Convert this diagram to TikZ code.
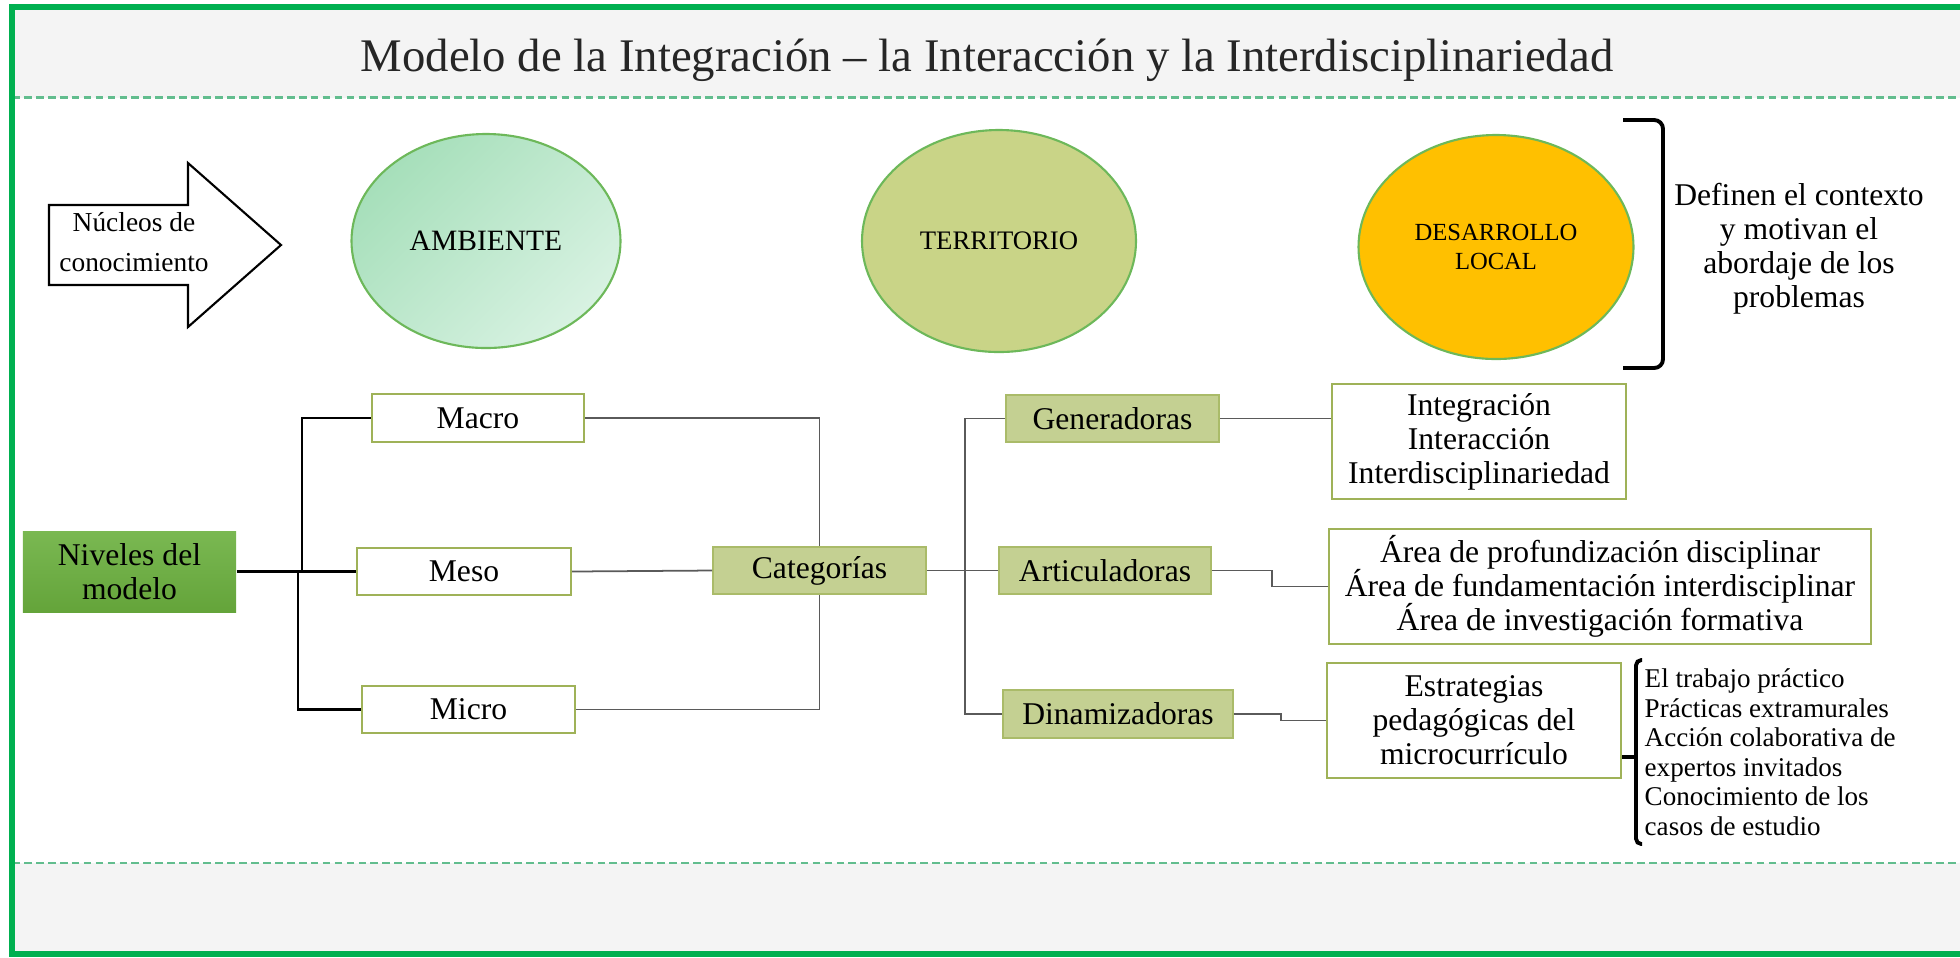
\documentclass[tikz,border=0pt]{standalone}
\usepackage{fontspec}
\setmainfont{Liberation Serif}
\usepackage{tikz}
\usetikzlibrary{shapes.geometric}

\definecolor{framegreen}{HTML}{00B050}
\definecolor{bandgray}{HTML}{F4F4F4}
\definecolor{dashgreen}{HTML}{62BD8E}
\definecolor{olivefill}{HTML}{C4D092}
\definecolor{oliveline}{HTML}{9FB258}
\definecolor{oliveterr}{HTML}{C9D487}
\definecolor{ambdark}{HTML}{A6DFBA}
\definecolor{amblight}{HTML}{D8F2E2}
\definecolor{ellline}{HTML}{6DB85A}
\definecolor{localgold}{HTML}{FFC000}
\definecolor{nivtop}{HTML}{7AB852}
\definecolor{nivbot}{HTML}{64A43A}
\definecolor{linkgray}{HTML}{5A5A5A}

\tikzset{
  whitebox/.style={rectangle, draw=oliveline, line width=0.6pt, fill=white, inner sep=0pt, align=center},
  olivebox/.style={rectangle, draw=oliveline!70!olivefill, line width=0.5pt, fill=olivefill, inner sep=0pt, align=center},
  zone/.style={ellipse, draw=ellline, line width=0.6pt, inner sep=0pt, align=center},
  blackline/.style={black, line width=0.8pt},
  grayline/.style={linkgray, line width=0.5pt},
  boxfont/.style={font=\fontsize{9}{9.7}\selectfont},
  dashrule/.style={dashgreen, line width=0.6pt, dash pattern=on 2.2pt off 1.2pt}
}

\begin{document}
\begin{tikzpicture}
\useasboundingbox (0,0) rectangle (19.6,-9.57);

% bands and frame
\fill[bandgray] (0.12,-0.07) rectangle (19.6,-0.975);
\fill[bandgray] (0.12,-8.63) rectangle (19.6,-9.54);
\draw[dashrule] (0.12,-0.975) -- (19.6,-0.975);
\draw[dashrule] (0.12,-8.63) -- (19.6,-8.63);
\draw[framegreen, line width=1.6pt] (19.6,-0.07) -- (0.12,-0.07) -- (0.12,-9.54) -- (19.6,-9.54);

\node[text=black!85, font=\fontsize{13.3}{16}\selectfont] (title) at (9.87,-0.60)
  {Modelo de la Integración – la Interacción y la Interdisciplinariedad};

% top row
\draw[line width=0.6pt] (0.49,-2.05) -- (1.88,-2.05) -- (1.88,-1.63) -- (2.81,-2.45)
  -- (1.88,-3.27) -- (1.88,-2.85) -- (0.49,-2.85) -- cycle;
\node[align=center, font=\fontsize{7.8}{11.4}\selectfont] (nucleos) at (1.34,-2.42) {Núcleos de\\conocimiento};

\node[zone, minimum width=2.69cm, minimum height=2.14cm, top color=ambdark, bottom color=amblight,
  shading angle=45, font=\fontsize{8.4}{10}\selectfont] (ambiente) at (4.86,-2.41) {AMBIENTE};
\node[zone, minimum width=2.74cm, minimum height=2.22cm, fill=oliveterr,
  font=\fontsize{7.6}{9}\selectfont] (territorio) at (9.99,-2.41) {TERRITORIO};
\node[zone, minimum width=2.75cm, minimum height=2.24cm, fill=localgold,
  font=\fontsize{7}{8.3}\selectfont] (desarrollo) at (14.96,-2.47) {DESARROLLO\\LOCAL};

\draw[line width=1.1pt, rounded corners=2.5pt] (16.23,-1.20) -- (16.63,-1.20) -- (16.63,-3.68) -- (16.23,-3.68);
\node[align=center, boxfont] (contexto) at (17.99,-2.49)
  {Definen el contexto\\y motivan el\\abordaje de los\\problemas};

% levels
\node[rectangle, top color=nivtop, bottom color=nivbot, minimum width=2.13cm, minimum height=0.81cm,
  inner sep=0pt, align=center, boxfont] (niveles) at (1.295,-5.715) {Niveles del\\modelo};
\node[whitebox, minimum width=2.12cm, minimum height=0.48cm, boxfont] (macro) at (4.78,-4.18) {Macro};
\node[whitebox, minimum width=2.14cm, minimum height=0.47cm, boxfont] (meso) at (4.64,-5.715) {Meso};
\node[whitebox, minimum width=2.13cm, minimum height=0.47cm, boxfont] (micro) at (4.685,-7.095) {Micro};
\node[olivebox, minimum width=2.13cm, minimum height=0.47cm, boxfont] (categorias) at (8.195,-5.705) {Categorías};

\draw[blackline] (niveles.east) -- (meso.west);
\draw[blackline] (macro.west) -- ++(-0.69,0) |- (meso.west);
\draw[blackline] (micro.west) -- ++(-0.63,0) |- (niveles.east);
\draw[grayline] (macro.east) -| (categorias.north);
\draw[grayline] (meso.east) -- (categorias.west);
\draw[grayline] (micro.east) -| (categorias.south);

% categories
\node[olivebox, minimum width=2.13cm, minimum height=0.47cm, boxfont] (generadoras) at (11.125,-4.185) {Generadoras};
\node[olivebox, minimum width=2.12cm, minimum height=0.47cm, boxfont] (articuladoras) at (11.05,-5.705) {Articuladoras};
\node[olivebox, minimum width=2.30cm, minimum height=0.48cm, boxfont] (dinamizadoras) at (11.18,-7.14) {Dinamizadoras};

\draw[grayline] (categorias.east) -- (articuladoras.west);
\draw[grayline] (generadoras.west) -- ++(-0.40,0) |- (dinamizadoras.west);

\node[whitebox, minimum width=2.94cm, minimum height=1.15cm, boxfont] (integracion) at (14.79,-4.415)
  {Integración\\Interacción\\Interdisciplinariedad};
\node[whitebox, minimum width=5.42cm, minimum height=1.15cm, boxfont] (area) at (16.00,-5.865)
  {Área de profundización disciplinar\\Área de fundamentación interdisciplinar\\Área de investigación formativa};
\node[whitebox, minimum width=2.94cm, minimum height=1.15cm, boxfont] (estrategias) at (14.74,-7.205)
  {Estrategias\\pedagógicas del\\microcurrículo};

\draw[grayline] (generadoras.east) -- (generadoras.east -| integracion.west);
\draw[grayline] (articuladoras.east) -- ++(0.60,0) |- (area.west);
\draw[grayline] (dinamizadoras.east) -- ++(0.47,0) |- (estrategias.west);

% strategies list
\coordinate (bracetick) at (16.36,-7.57);
\draw[line width=1.1pt, rounded corners=1.5pt] (16.42,-6.60) -- (16.36,-6.60) -- (16.36,-8.44) -- (16.42,-8.44);
\draw[line width=1.1pt] (bracetick -| estrategias.east) -- (bracetick);
\node[anchor=west, align=left, inner sep=0pt, font=\fontsize{7.7}{8.4}\selectfont] (lista) at (16.44,-7.52)
  {El trabajo práctico\\Prácticas extramurales\\Acción colaborativa de\\expertos invitados\\Conocimiento de los\\casos de estudio};

\end{tikzpicture}
\end{document}
